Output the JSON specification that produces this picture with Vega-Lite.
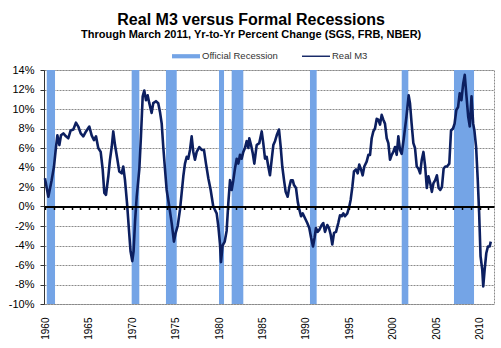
{
  "$schema": "https://vega.github.io/schema/vega-lite/v6.json",
  "width": 450,
  "height": 234,
  "autosize": "none",
  "padding": {"left": 44, "top": 70, "right": 7, "bottom": 44},
  "background": "white",
  "title": {
    "text": "Real M3 versus Formal Recessions",
    "subtitle": "Through March 2011, Yr-to-Yr Percent Change (SGS, FRB, NBER)",
    "font": "Liberation Sans",
    "fontSize": 16,
    "fontWeight": "bold",
    "color": "#000000",
    "subtitleFont": "Liberation Sans",
    "subtitleFontSize": 11,
    "subtitleFontWeight": "bold",
    "subtitleColor": "#000000",
    "subtitlePadding": 1,
    "anchor": "middle",
    "frame": "bounds",
    "offset": 2
  },
  "datasets": {
    "rec": [
      {"start": 1960.15, "end": 1961.1},
      {"start": 1969.93, "end": 1970.81},
      {"start": 1973.88, "end": 1975.12},
      {"start": 1979.99, "end": 1980.57},
      {"start": 1981.45, "end": 1982.79},
      {"start": 1990.47, "end": 1991.24},
      {"start": 2001.04, "end": 2001.8},
      {"start": 2007.06, "end": 2009.37}
    ],
    "m3": [
      {"year": 1959.94, "value": 2.9}, {"year": 1960.33, "value": 1.0}, {"year": 1960.71, "value": 2.7},
      {"year": 1960.98, "value": 4.1}, {"year": 1961.21, "value": 6.1}, {"year": 1961.37, "value": 7.3},
      {"year": 1961.6, "value": 6.3}, {"year": 1961.79, "value": 7.3}, {"year": 1962.06, "value": 7.5},
      {"year": 1962.36, "value": 7.2}, {"year": 1962.63, "value": 7.0}, {"year": 1962.9, "value": 7.8},
      {"year": 1963.21, "value": 7.9}, {"year": 1963.51, "value": 8.6}, {"year": 1963.78, "value": 8.2},
      {"year": 1964.06, "value": 7.5}, {"year": 1964.36, "value": 7.2}, {"year": 1964.67, "value": 7.7},
      {"year": 1965.05, "value": 8.2}, {"year": 1965.32, "value": 7.3}, {"year": 1965.59, "value": 6.8},
      {"year": 1965.82, "value": 7.2}, {"year": 1966.08, "value": 6.0}, {"year": 1966.36, "value": 5.6},
      {"year": 1966.59, "value": 3.8}, {"year": 1966.78, "value": 1.4}, {"year": 1966.97, "value": 1.2},
      {"year": 1967.24, "value": 3.1}, {"year": 1967.43, "value": 4.8}, {"year": 1967.63, "value": 6.1},
      {"year": 1967.81, "value": 7.7}, {"year": 1968.01, "value": 6.3}, {"year": 1968.27, "value": 4.9},
      {"year": 1968.5, "value": 3.6}, {"year": 1968.78, "value": 3.4}, {"year": 1968.96, "value": 4.1},
      {"year": 1969.16, "value": 2.7}, {"year": 1969.4, "value": 0.3}, {"year": 1969.6, "value": -2.2},
      {"year": 1969.8, "value": -4.6}, {"year": 1970.0, "value": -5.6}, {"year": 1970.15, "value": -4.6},
      {"year": 1970.32, "value": -1.5}, {"year": 1970.51, "value": 1.0}, {"year": 1970.81, "value": 3.8},
      {"year": 1971.0, "value": 7.2}, {"year": 1971.2, "value": 11.3}, {"year": 1971.38, "value": 11.9},
      {"year": 1971.58, "value": 10.9}, {"year": 1971.77, "value": 11.4}, {"year": 1971.96, "value": 10.6},
      {"year": 1972.23, "value": 9.6}, {"year": 1972.42, "value": 10.6}, {"year": 1972.73, "value": 10.8},
      {"year": 1972.99, "value": 10.6}, {"year": 1973.19, "value": 9.7}, {"year": 1973.39, "value": 8.5},
      {"year": 1973.57, "value": 6.1}, {"year": 1973.77, "value": 3.8}, {"year": 1973.96, "value": 1.7},
      {"year": 1974.26, "value": 0.0}, {"year": 1974.54, "value": -1.7}, {"year": 1974.8, "value": -3.6},
      {"year": 1975.0, "value": -2.7}, {"year": 1975.23, "value": -2.0}, {"year": 1975.5, "value": -0.3},
      {"year": 1975.69, "value": 1.4}, {"year": 1975.88, "value": 3.1}, {"year": 1976.07, "value": 4.4},
      {"year": 1976.27, "value": 5.1}, {"year": 1976.45, "value": 4.9}, {"year": 1976.65, "value": 5.8},
      {"year": 1976.84, "value": 7.2}, {"year": 1977.03, "value": 5.6}, {"year": 1977.22, "value": 4.8},
      {"year": 1977.42, "value": 5.6}, {"year": 1977.72, "value": 6.1}, {"year": 1978.0, "value": 5.8},
      {"year": 1978.26, "value": 5.8}, {"year": 1978.49, "value": 4.4}, {"year": 1978.76, "value": 2.9},
      {"year": 1979.03, "value": 1.7}, {"year": 1979.33, "value": 0.0}, {"year": 1979.72, "value": -0.7},
      {"year": 1979.91, "value": -2.0}, {"year": 1980.1, "value": -3.8}, {"year": 1980.22, "value": -5.7},
      {"year": 1980.4, "value": -4.0}, {"year": 1980.65, "value": -3.6}, {"year": 1980.87, "value": -2.5},
      {"year": 1981.06, "value": 0.3}, {"year": 1981.26, "value": 2.7}, {"year": 1981.45, "value": 1.7},
      {"year": 1981.64, "value": 2.7}, {"year": 1981.83, "value": 3.9}, {"year": 1982.03, "value": 4.9},
      {"year": 1982.22, "value": 4.4}, {"year": 1982.41, "value": 5.3}, {"year": 1982.6, "value": 4.9},
      {"year": 1982.79, "value": 5.6}, {"year": 1982.98, "value": 6.0}, {"year": 1983.18, "value": 6.7},
      {"year": 1983.37, "value": 6.0}, {"year": 1983.48, "value": 7.0}, {"year": 1983.68, "value": 6.3},
      {"year": 1983.87, "value": 5.5}, {"year": 1984.06, "value": 4.4}, {"year": 1984.33, "value": 6.3},
      {"year": 1984.63, "value": 6.5}, {"year": 1984.91, "value": 7.7}, {"year": 1985.09, "value": 6.5},
      {"year": 1985.29, "value": 4.9}, {"year": 1985.48, "value": 5.1}, {"year": 1985.67, "value": 4.1},
      {"year": 1985.86, "value": 3.2}, {"year": 1986.06, "value": 4.8}, {"year": 1986.25, "value": 6.3},
      {"year": 1986.44, "value": 6.7}, {"year": 1986.64, "value": 7.3}, {"year": 1986.9, "value": 7.9},
      {"year": 1987.1, "value": 6.1}, {"year": 1987.28, "value": 4.1}, {"year": 1987.48, "value": 2.7},
      {"year": 1987.67, "value": 1.5}, {"year": 1987.9, "value": 1.0}, {"year": 1988.09, "value": 2.0},
      {"year": 1988.28, "value": 2.7}, {"year": 1988.48, "value": 2.7}, {"year": 1988.63, "value": 2.2},
      {"year": 1988.86, "value": 1.9}, {"year": 1989.06, "value": 0.5}, {"year": 1989.24, "value": -0.3},
      {"year": 1989.44, "value": -1.0}, {"year": 1989.63, "value": -0.7}, {"year": 1989.9, "value": -1.2},
      {"year": 1990.16, "value": -1.7}, {"year": 1990.39, "value": -2.2}, {"year": 1990.6, "value": -3.2},
      {"year": 1990.82, "value": -4.1}, {"year": 1991.0, "value": -3.2}, {"year": 1991.16, "value": -2.2},
      {"year": 1991.35, "value": -2.6}, {"year": 1991.54, "value": -2.4}, {"year": 1991.82, "value": -1.9},
      {"year": 1992.0, "value": -1.7}, {"year": 1992.2, "value": -2.6}, {"year": 1992.47, "value": -1.9},
      {"year": 1992.66, "value": -2.2}, {"year": 1992.86, "value": -2.9}, {"year": 1993.04, "value": -3.9},
      {"year": 1993.24, "value": -2.7}, {"year": 1993.47, "value": -2.6}, {"year": 1993.73, "value": -1.7},
      {"year": 1993.93, "value": -0.9}, {"year": 1994.12, "value": -1.0}, {"year": 1994.31, "value": -0.7},
      {"year": 1994.5, "value": -1.0}, {"year": 1994.77, "value": -0.7}, {"year": 1995.0, "value": 0.0},
      {"year": 1995.16, "value": 0.7}, {"year": 1995.35, "value": 2.0}, {"year": 1995.54, "value": 3.6},
      {"year": 1995.77, "value": 3.8}, {"year": 1995.97, "value": 3.4}, {"year": 1996.15, "value": 4.3},
      {"year": 1996.35, "value": 3.8}, {"year": 1996.54, "value": 3.2}, {"year": 1996.73, "value": 4.1},
      {"year": 1997.0, "value": 4.6}, {"year": 1997.2, "value": 5.3}, {"year": 1997.39, "value": 5.3},
      {"year": 1997.58, "value": 7.0}, {"year": 1997.77, "value": 7.7}, {"year": 1997.96, "value": 8.0},
      {"year": 1998.16, "value": 9.0}, {"year": 1998.34, "value": 8.9}, {"year": 1998.54, "value": 8.4},
      {"year": 1998.73, "value": 9.4}, {"year": 1998.92, "value": 8.9}, {"year": 1999.11, "value": 8.5},
      {"year": 1999.31, "value": 7.0}, {"year": 1999.5, "value": 6.5}, {"year": 1999.69, "value": 4.8},
      {"year": 1999.89, "value": 5.3}, {"year": 2000.07, "value": 5.6}, {"year": 2000.27, "value": 6.1},
      {"year": 2000.46, "value": 5.3}, {"year": 2000.65, "value": 7.2}, {"year": 2000.84, "value": 5.8},
      {"year": 2001.04, "value": 5.4}, {"year": 2001.28, "value": 7.0}, {"year": 2001.58, "value": 9.2},
      {"year": 2001.84, "value": 11.4}, {"year": 2001.99, "value": 10.6}, {"year": 2002.18, "value": 8.5},
      {"year": 2002.38, "value": 6.5}, {"year": 2002.57, "value": 6.0}, {"year": 2002.77, "value": 4.1},
      {"year": 2002.96, "value": 3.9}, {"year": 2003.16, "value": 3.4}, {"year": 2003.35, "value": 4.8},
      {"year": 2003.54, "value": 5.6}, {"year": 2003.74, "value": 4.1}, {"year": 2003.93, "value": 1.9},
      {"year": 2004.12, "value": 3.1}, {"year": 2004.32, "value": 2.4}, {"year": 2004.51, "value": 1.5},
      {"year": 2004.7, "value": 2.4}, {"year": 2004.9, "value": 2.7}, {"year": 2005.09, "value": 3.2},
      {"year": 2005.29, "value": 1.9}, {"year": 2005.48, "value": 1.7}, {"year": 2005.67, "value": 2.0},
      {"year": 2005.87, "value": 3.9}, {"year": 2006.06, "value": 4.1}, {"year": 2006.26, "value": 4.1},
      {"year": 2006.52, "value": 4.4}, {"year": 2006.72, "value": 7.8}, {"year": 2006.95, "value": 8.0},
      {"year": 2007.13, "value": 8.5}, {"year": 2007.33, "value": 9.9}, {"year": 2007.53, "value": 10.2},
      {"year": 2007.72, "value": 11.6}, {"year": 2007.92, "value": 10.9}, {"year": 2008.12, "value": 12.6},
      {"year": 2008.3, "value": 13.5}, {"year": 2008.5, "value": 11.3}, {"year": 2008.7, "value": 9.2},
      {"year": 2008.88, "value": 8.2}, {"year": 2009.08, "value": 11.3}, {"year": 2009.27, "value": 8.5},
      {"year": 2009.41, "value": 7.8}, {"year": 2009.61, "value": 6.1}, {"year": 2009.8, "value": 2.7},
      {"year": 2009.96, "value": -0.7}, {"year": 2010.12, "value": -5.1}, {"year": 2010.32, "value": -6.5},
      {"year": 2010.43, "value": -8.2}, {"year": 2010.59, "value": -6.5}, {"year": 2010.78, "value": -4.8},
      {"year": 2010.97, "value": -4.1}, {"year": 2011.17, "value": -4.1}, {"year": 2011.3, "value": -3.6}
    ]
  },
  "layer": [
    {
      "data": {"name": "rec"},
      "mark": {"type": "rect"},
      "encoding": {
        "x": {
          "field": "start",
          "type": "quantitative",
          "scale": {"domain": [1959.83, 2011.67], "nice": false, "zero": false},
          "axis": {
            "orient": "bottom",
            "title": null,
            "values": [1960, 1965, 1970, 1975, 1980, 1985, 1990, 1995, 2000, 2005, 2010],
            "format": "d",
            "labelAngle": -90,
            "labelFont": "Liberation Sans",
            "labelFontSize": 10,
            "labelColor": "#000000",
            "labelPadding": 13,
            "ticks": false,
            "domain": false,
            "grid": false
          }
        },
        "x2": {"field": "end"},
        "color": {
          "datum": "Official Recession",
          "scale": {"domain": ["Official Recession", "Real M3"], "range": ["#74a4e6", "#0c1f60"]},
          "legend": {
            "orient": "none",
            "legendX": 128,
            "legendY": -28,
            "direction": "horizontal",
            "title": null,
            "labelFont": "Liberation Sans",
            "labelFontSize": 9.5,
            "labelColor": "#333333",
            "labelOffset": 2,
            "symbolType": "M-1,-0.15H1V0.15H-1Z",
            "symbolSize": 784,
            "symbolStrokeWidth": 0,
            "columnPadding": 24,
            "encode": {
              "symbols": {
                "update": {
                  "shape": {"signal": "datum.value === 'Real M3' ? 'M-1,-0.05H1V0.05H-1Z' : 'M-1,-0.15H1V0.15H-1Z'"}
                }
              }
            }
          }
        }
      }
    },
    {
      "data": {"name": "m3"},
      "mark": {"type": "line", "strokeWidth": 2.6, "strokeJoin": "round"},
      "encoding": {
        "x": {
          "field": "year",
          "type": "quantitative",
          "axis": {
            "orient": "bottom",
            "offset": -97.5,
            "title": null,
            "labels": false,
            "grid": false,
            "values": [1960, 1961, 1962, 1963, 1964, 1965, 1966, 1967, 1968, 1969, 1970, 1971, 1972, 1973, 1974, 1975, 1976, 1977, 1978, 1979, 1980, 1981, 1982, 1983, 1984, 1985, 1986, 1987, 1988, 1989, 1990, 1991, 1992, 1993, 1994, 1995, 1996, 1997, 1998, 1999, 2000, 2001, 2002, 2003, 2004, 2005, 2006, 2007, 2008, 2009, 2010, 2011],
            "domainColor": "#000000",
            "domainWidth": 2,
            "tickColor": "#000000",
            "tickWidth": 1.5,
            "tickSize": 3,
            "zindex": 1
          }
        },
        "y": {
          "field": "value",
          "type": "quantitative",
          "scale": {"domain": [-10, 14], "nice": false, "zero": false},
          "axis": {
            "title": null,
            "values": [-10, -8, -6, -4, -2, 0, 2, 4, 6, 8, 10, 12, 14],
            "labelExpr": "datum.value + '%'",
            "labelFont": "Liberation Sans",
            "labelFontSize": 11,
            "labelColor": "#000000",
            "labelPadding": 6,
            "tickSize": 4,
            "tickColor": "#333333",
            "domainColor": "#333333",
            "grid": true,
            "gridColor": "#8a8a8a",
            "gridDash": [2, 1],
            "gridWidth": 1.2
          }
        },
        "color": {"datum": "Real M3"}
      }
    }
  ],
  "resolve": {"axis": {"x": "independent"}},
  "config": {
    "view": {"stroke": "#8a8a8a", "strokeDash": [2, 1], "strokeWidth": 1}
  }
}
